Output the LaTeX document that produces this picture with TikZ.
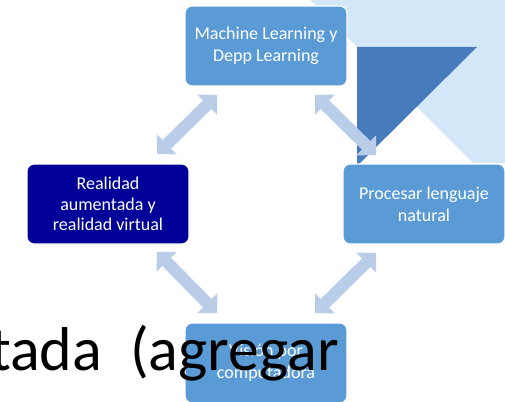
\documentclass[tikz,border=0pt]{standalone}
\usepackage{fontspec}
\setmainfont{Carlito}
\usetikzlibrary{arrows.meta}
\definecolor{boxblue}{RGB}{91,155,213}
\definecolor{navy}{RGB}{0,0,153}
\definecolor{arrowblue}{RGB}{185,205,233}
\definecolor{bglight}{RGB}{211,231,248}
\definecolor{bgdark}{RGB}{70,123,188}
\begin{document}
\begin{tikzpicture}[x=1pt,y=-1pt,
  card/.style={draw=white, line width=1.2pt, rounded corners=7pt, minimum width=162pt, minimum height=80pt, inner sep=0pt, text=white, align=center, font=\fontsize{18}{22}\selectfont},
  bluecard/.style={card, fill=boxblue},
  navycard/.style={card, fill=navy},
  dblarrow/.style={draw=arrowblue, line width=12pt, {Triangle[length=13.8pt,width=27.6pt]}-{Triangle[length=13.8pt,width=27.6pt]}}
]
\useasboundingbox (0,0) rectangle (505,401);
\clip (0,0) rectangle (505,401);
% background shapes
\fill[bglight] (310,0) -- (505,0) -- (505,163) -- (473,163) -- cycle;
\fill[bgdark] (357,47) -- (477,47) -- (357,166) -- cycle;
% arrow end points
\coordinate (a1s) at (157,154);
\coordinate (a1e) at (217,95);
\coordinate (a2s) at (315,95);
\coordinate (a2e) at (376,155);
\coordinate (a3s) at (157,252);
\coordinate (a3e) at (217,313);
\coordinate (a4s) at (376,253);
\coordinate (a4e) at (315,313);
\draw[dblarrow] (a1s) -- (a1e);
\draw[dblarrow] (a2s) -- (a2e);
\draw[dblarrow] (a3s) -- (a3e);
\draw[dblarrow] (a4s) -- (a4e);
% boxes
\node[bluecard] (ml) at (266,46) {Machine Learning y\\Depp Learning};
\node[navycard, font=\fontsize{18}{20.5}\selectfont] (ar) at (108,204) {Realidad\\aumentada y\\realidad virtual};
\node[bluecard] (nlp) at (424,204) {Procesar lenguaje\\natural};
\node[bluecard] (cv) at (266,363) {Visión por\\computadora};
% overlaid big text
\node[anchor=base east, inner sep=0pt, font=\fontsize{62}{66}\selectfont] (big) at (339,370) {tada\ \ (agregar};
\end{tikzpicture}
\end{document}
